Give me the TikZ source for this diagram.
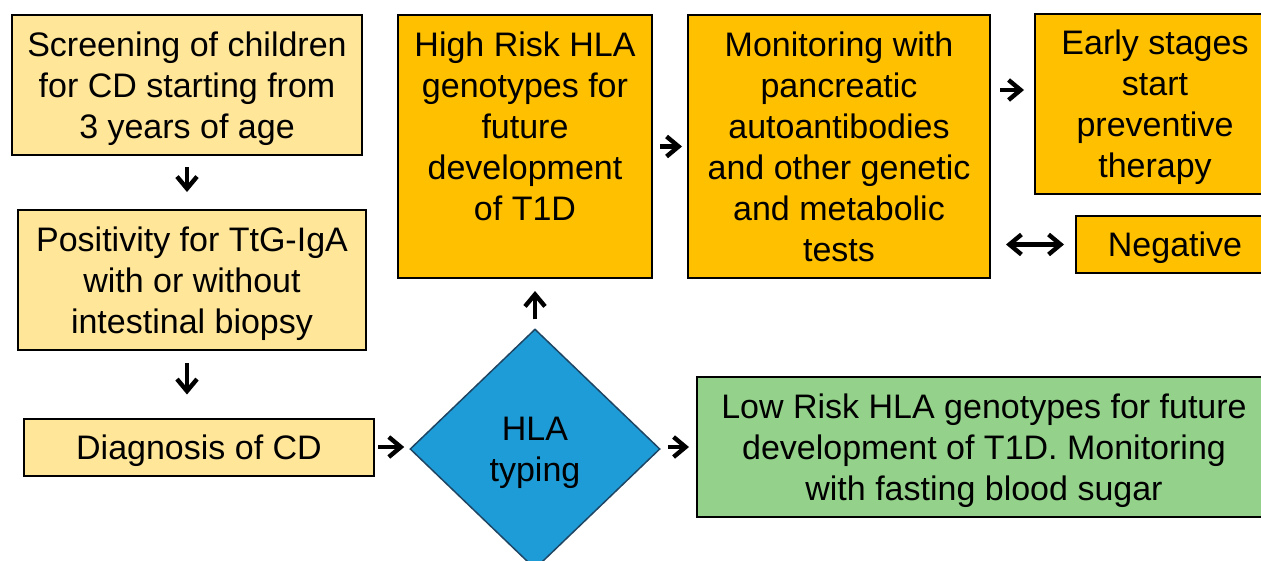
\documentclass[tikz,border=0pt]{standalone}
\usepackage{fontspec}
\setmainfont{Liberation Sans}
\usetikzlibrary{arrows.meta,shapes.geometric}
\definecolor{cdyellow}{RGB}{255,230,153}
\definecolor{riskorange}{RGB}{255,192,0}
\definecolor{typingblue}{RGB}{30,156,215}
\definecolor{typingedge}{RGB}{30,70,100}
\definecolor{lowgreen}{RGB}{148,210,139}

\begin{document}
\begin{tikzpicture}[x=1pt,y=-1pt,
  box/.style={draw=black,line width=2pt,inner sep=0pt,align=center,text depth=0pt,font=\fontsize{34}{41}\selectfont},
  cdbox/.style={box,fill=cdyellow},
  riskbox/.style={box,fill=riskorange},
  >={Straight Barb[length=12pt,width=20pt]},
  flow/.style={line width=4.4pt,->},
  flowboth/.style={line width=4.4pt,<->}]
  \useasboundingbox (0,0) rectangle (1261,560);
  \clip (0,0) rectangle (1261,560);
  % celiac screening column
  \node[cdbox,minimum width=350pt,minimum height=140pt] (scr) at (187,85) {Screening of children\\for CD starting from\\3 years of age};
  \node[cdbox,minimum width=348pt,minimum height=140pt] (pos) at (192,280) {Positivity for TtG-IgA\\with or without\\intestinal biopsy};
  \node[cdbox,minimum width=350pt,minimum height=57pt] (diag) at (199,447) {Diagnosis of CD};
  % typing and the two branches
  \node[shape=diamond,fill=typingblue,draw=typingedge,line width=1.5pt,inner sep=0pt,align=center,text depth=0pt,
        minimum width=250pt,minimum height=240pt,font=\fontsize{34}{41}\selectfont] (hla) at (535,449) {HLA\\typing};
  \node[riskbox,minimum width=254pt,minimum height=263pt] (high) at (525,146.5) {High Risk HLA\\genotypes for\\future\\development\\of T1D\\ \strut};
  \node[riskbox,minimum width=302pt,minimum height=263pt] (mon) at (839,146.5) {Monitoring with\\pancreatic\\autoantibodies\\and other genetic\\and metabolic\\tests};
  \node[riskbox,minimum width=240pt,minimum height=180pt] (early) at (1155,104) {Early stages\\start\\preventive\\therapy};
  \node[riskbox,minimum width=198pt,minimum height=57pt] (neg) at (1175,244.5) {Negative};
  \node[box,fill=lowgreen,minimum width=574pt,minimum height=140pt] (low) at (984,447) {Low Risk HLA genotypes for future\\development of T1D. Monitoring\\with fasting blood sugar};
  \coordinate (earlyin) at ([yshift=14pt]early.west);
  % connectors
  \draw[flow,shorten <=11pt,shorten >=17pt] (scr.south) -- (scr.south |- pos.north);
  \draw[flow,shorten <=12pt,shorten >=23pt] (scr.south |- pos.south) -- (scr.south |- diag.north);
  \draw[flow,shorten <=3pt,shorten >=5pt] (diag.east) -- (diag.east -| hla.west);
  \draw[flow,shorten <=7pt,shorten >=7pt] (hla.east |- low.west) -- (low.west);
  \draw[flow,shorten <=9pt,shorten >=12pt] (hla.north) -- (hla.north |- high.south);
  \draw[flow,shorten <=7pt,shorten >=5pt] (high.east) -- (mon.west);
  \draw[flow,shorten <=9pt,shorten >=10pt] (mon.east |- earlyin) -- (earlyin);
  \draw[flowboth,shorten <=15pt,shorten >=11pt] (mon.east |- neg.west) -- (neg.west);
\end{tikzpicture}
\end{document}
